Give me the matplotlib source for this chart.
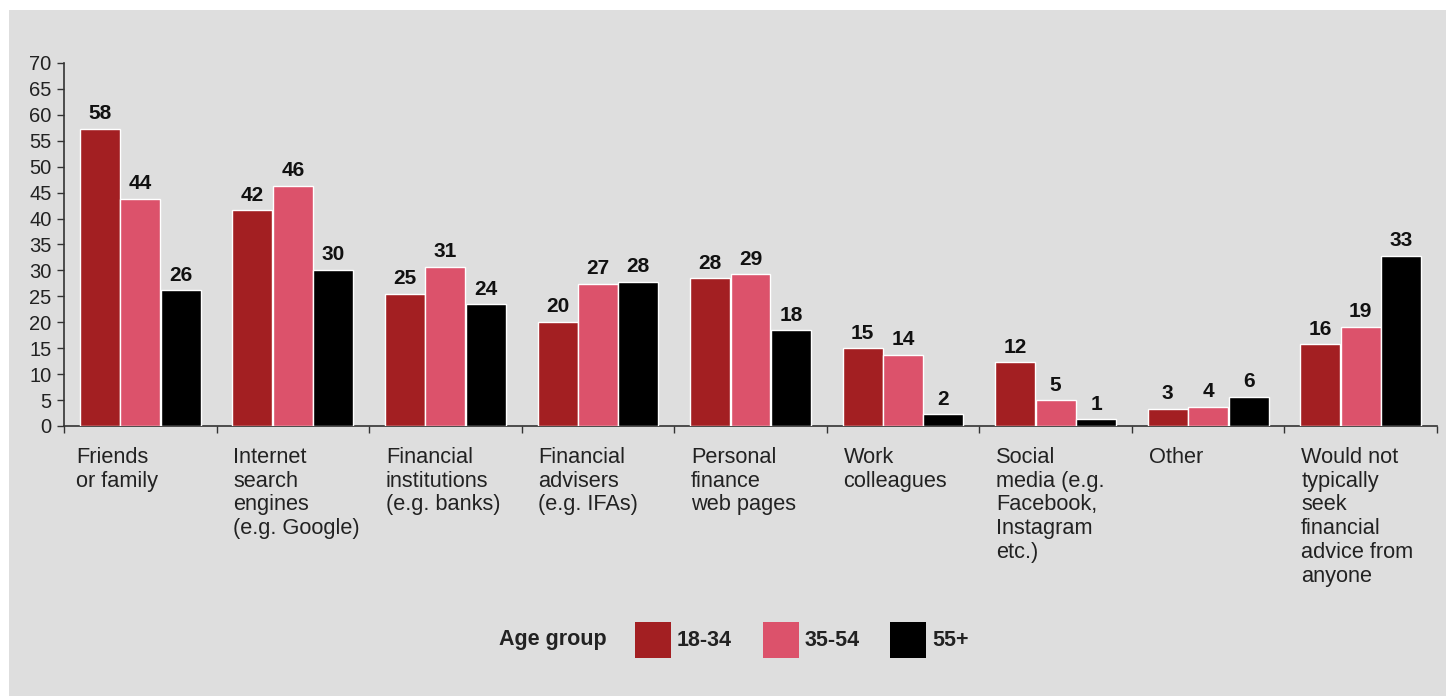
import matplotlib
matplotlib.use("Agg")
import matplotlib.pyplot as plt
from matplotlib.patches import Rectangle
import numpy as np

plt.rcParams['font.family'] = ['Liberation Sans', 'DejaVu Sans']

categories = ["Friends\nor family", "Internet\nsearch\nengines\n(e.g. Google)",
              "Financial\ninstitutions\n(e.g. banks)", "Financial\nadvisers\n(e.g. IFAs)",
              "Personal\nfinance\nweb pages", "Work\ncolleagues",
              "Social\nmedia (e.g.\nFacebook,\nInstagram\netc.)", "Other",
              "Would not\ntypically\nseek\nfinancial\nadvice from\nanyone"]
series_names = ["18-34", "35-54", "55+"]
# bar heights as measured
v_18_34 = [57.3, 41.6, 25.5, 20.1, 28.5, 15.0, 12.3, 3.3, 15.8]
v_35_54 = [43.8, 46.3, 30.7, 27.4, 29.3, 13.7, 5.0, 3.7, 19.1]
v_55 = [26.2, 30.1, 23.5, 27.8, 18.5, 2.3, 1.3, 5.6, 32.8]
# printed labels
l_18_34 = [58, 42, 25, 20, 28, 15, 12, 3, 16]
l_35_54 = [44, 46, 31, 27, 29, 14, 5, 4, 19]
l_55 = [26, 30, 24, 28, 18, 2, 1, 6, 33]
colors = ["#a31f22", "#dc526b", "#000000"]
yticks = list(range(0, 75, 5))

W, H = 1452, 696
fig = plt.figure(figsize=(W / 100, H / 100), dpi=100)
fig.patch.set_facecolor("white")
fig.patches.append(Rectangle((9 / W, 0), (1446 - 9) / W, (H - 10) / H,
                             transform=fig.transFigure, facecolor="#dedede",
                             edgecolor="none", zorder=-10))

ax = fig.add_axes([64 / W, 1 - 426 / H, (1437 - 64) / W, (426 - 63) / H])
ax.set_facecolor("none")
ax.set_zorder(1)

x = np.arange(len(categories)) + 0.5
bw = 0.262
offs = [-0.265, 0.0, 0.265]
for vals, labs, c, o in zip([v_18_34, v_35_54, v_55], [l_18_34, l_35_54, l_55], colors, offs):
    bars = ax.bar(x + o, vals, width=bw, color=c, edgecolor="white", linewidth=1, zorder=3)
    for b, v, lab in zip(bars, vals, labs):
        ax.annotate(str(lab), (b.get_x() + b.get_width() / 2, v),
                    xytext=(0, 4), textcoords="offset points", ha="center", va="bottom",
                    fontsize=15, fontweight="bold", color="#111111")

ax.set_xlim(0, len(categories))
ax.set_ylim(0, 70)
ax.set_yticks(yticks)
ax.set_yticklabels([str(t) for t in yticks], fontsize=14.5, color="#222222")
ax.set_xticks(np.arange(len(categories) + 1))
ax.set_xticklabels([])
ax.tick_params(axis="both", direction="out", length=5, width=1, color="#333333")
ax.tick_params(axis="y", pad=4)
for s in ["top", "right"]:
    ax.spines[s].set_visible(False)
for s in ["left", "bottom"]:
    ax.spines[s].set_color("#333333")
    ax.spines[s].set_linewidth(1.2)

for i, cat in enumerate(categories):
    ax.text(i + (0.08 if i == 0 else 0.11), -0.058, cat, transform=ax.get_xaxis_transform(),
            ha="left", va="top", fontsize=15.7, color="#222222", linespacing=1.17)

# legend
yc = 1 - 640 / H
fig.text(499 / W, yc, "Age group", ha="left", va="center", fontsize=15.5,
         fontweight="bold", color="#222222")
for name, c, x0 in zip(series_names, colors, [635, 763, 890]):
    fig.patches.append(Rectangle((x0 / W, yc - 18 / H), 36 / W, 36 / H,
                                 transform=fig.transFigure, facecolor=c, edgecolor="none"))
    fig.text((x0 + 42) / W, yc, name, ha="left", va="center", fontsize=15.5,
             fontweight="bold", color="#222222")

fig.savefig("out.png", dpi=100, facecolor=fig.get_facecolor())
